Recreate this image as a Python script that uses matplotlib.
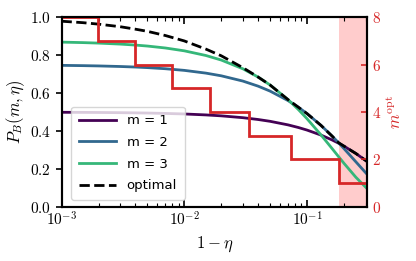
import matplotlib
matplotlib.use("Agg")
import matplotlib.pyplot as plt
from matplotlib.ticker import FixedLocator, FuncFormatter, LogLocator, NullFormatter

plt.rcParams['mathtext.fontset'] = 'cm'
plt.rcParams['font.family'] = ['DejaVu Sans']

# loss values (1 - eta)
loss = [0.001, 0.0015, 0.002, 0.003, 0.004, 0.005, 0.007, 0.01, 0.015, 0.02,
        0.03, 0.04, 0.05, 0.07, 0.085, 0.1, 0.13, 0.16, 0.18, 0.2, 0.25, 0.31]
p_m1 = [0.4990, 0.4985, 0.4980, 0.4970, 0.4960, 0.4950, 0.4930, 0.4901, 0.4851, 0.4802,
        0.4705, 0.4608, 0.4513, 0.4325, 0.4186, 0.4050, 0.3785, 0.3528, 0.3362, 0.3200, 0.2813, 0.2381]
p_m2 = [0.7470, 0.7455, 0.7440, 0.7410, 0.7381, 0.7351, 0.7292, 0.7205, 0.7060, 0.6918,
        0.6640, 0.6370, 0.6109, 0.5610, 0.5257, 0.4921, 0.4297, 0.3734, 0.3391, 0.3072, 0.2373, 0.1700]
p_m3 = [0.8698, 0.8672, 0.8646, 0.8594, 0.8542, 0.8491, 0.8389, 0.8238, 0.7991, 0.7751,
        0.7289, 0.6849, 0.6432, 0.5661, 0.5135, 0.4650, 0.3794, 0.3074, 0.2660, 0.2294, 0.1557, 0.0944]
p_opt = [0.9803, 0.9725, 0.9648, 0.9513, 0.9382, 0.9269, 0.9048, 0.8761, 0.8329, 0.7976,
         0.7348, 0.6849, 0.6432, 0.5661, 0.5257, 0.4921, 0.4297, 0.3734, 0.3391, 0.3200, 0.2813, 0.2381]

# optimal m: step edges in (1 - eta) and values
m_edges = [0.001, 0.001963, 0.003945, 0.00797, 0.01626, 0.03391, 0.07418, 0.1835, 0.31]
m_opt = [8, 7, 6, 5, 4, 3, 2, 1]
shade_start = 0.1835

fig = plt.figure(figsize=(4.16, 2.61), dpi=100)
ax = fig.add_axes([0.148, 0.208, 0.735, 0.725])
ax2 = ax.twinx()

red = '#d62728'
ax.axvspan(shade_start, 0.31, color='red', alpha=0.2, lw=0, zorder=0)
ax.plot(loss, p_m1, color='#440154', lw=2, label='m = 1')
ax.plot(loss, p_m2, color='#31688e', lw=2, label='m = 2')
ax.plot(loss, p_m3, color='#35b779', lw=2, label='m = 3')
ax.plot(loss, p_opt, 'k--', lw=2, label='optimal')
ax2.stairs(m_opt, m_edges, baseline=None, color=red, lw=2)

ax.set_xscale('log')
ax.set_xlim(0.001, 0.31)
ax.set_ylim(0, 1)
ax2.set_ylim(0, 8)

ax.xaxis.set_major_locator(FixedLocator([1e-3, 1e-2, 1e-1]))
ax.xaxis.set_major_formatter(FuncFormatter(lambda v, p: {1e-3: r'$10^{-3}$', 1e-2: r'$10^{-2}$', 1e-1: r'$10^{-1}$'}.get(v, '')))
ax.xaxis.set_minor_locator(LogLocator(base=10, subs=range(2, 10), numticks=20))
ax.xaxis.set_minor_formatter(NullFormatter())
ax.set_yticks([0, 0.2, 0.4, 0.6, 0.8, 1.0])
ax.yaxis.set_major_formatter(FuncFormatter(lambda v, p: r'$%.1f$' % v))
ax2.set_yticks([0, 2, 4, 6, 8])
ax2.yaxis.set_major_formatter(FuncFormatter(lambda v, p: r'$%d$' % v))

ax.tick_params(axis='x', which='both', direction='in', top=True, labelsize=11, pad=3)
ax.tick_params(axis='x', which='major', length=5, width=1.2)
ax.tick_params(axis='x', which='minor', length=3, width=0.8)
ax.tick_params(axis='y', direction='out', length=4, width=1.2, labelsize=11)
ax2.tick_params(axis='y', direction='in', length=4, width=1.2, labelsize=11, colors=red)

for a in (ax, ax2):
    for s in a.spines.values():
        s.set_linewidth(1.5)

ax.set_xlabel(r'$1-\eta$', fontsize=12)
ax.set_ylabel(r'$P_B(m,\eta)$', fontsize=12, labelpad=2)
ax2.set_ylabel(r'$m^{\rm opt}$', fontsize=12, color=red, labelpad=4)

ax.legend(loc='lower left', fontsize=9.5, handlelength=2.8, labelspacing=0.65,
          borderpad=0.6, bbox_to_anchor=(0.01, 0.0))

fig.savefig('out.png', dpi=100)
